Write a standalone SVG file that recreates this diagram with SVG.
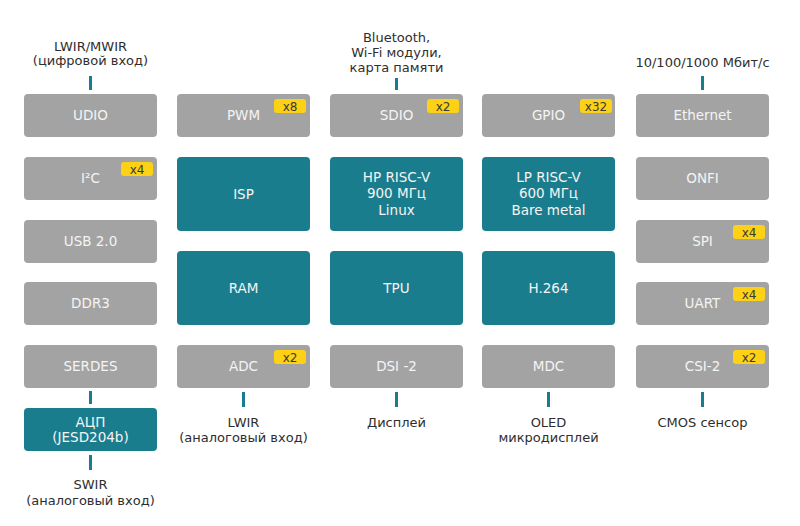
<svg xmlns="http://www.w3.org/2000/svg" width="800" height="526" viewBox="0 0 800 526">
<style>
  .g{fill:#a3a3a3}
  .t{fill:#1a7d8d}
  .bt{font-family:"DejaVu Sans",sans-serif;font-size:13.5px;fill:#f4f4f4;text-anchor:middle}
  .lb{font-family:"DejaVu Sans",sans-serif;font-size:13px;fill:#2e2e2e;text-anchor:middle}
  .bd{fill:#fcd116}
  .bx{font-family:"DejaVu Sans",sans-serif;font-size:12px;fill:#3a3a3a;text-anchor:middle}
  .c{stroke:#1a7d8d;stroke-width:3;fill:none}
</style>
<rect width="800" height="526" fill="#ffffff"/>

<g id="connectors">
  <line class="c" x1="90.5" y1="76" x2="90.5" y2="90"/>
  <line class="c" x1="396.5" y1="78" x2="396.5" y2="90"/>
  <line class="c" x1="702.5" y1="76" x2="702.5" y2="90"/>
  <line class="c" x1="90.5" y1="391" x2="90.5" y2="404"/>
  <line class="c" x1="90.5" y1="455" x2="90.5" y2="470"/>
  <line class="c" x1="243.5" y1="392" x2="243.5" y2="407"/>
  <line class="c" x1="396.5" y1="392" x2="396.5" y2="407"/>
  <line class="c" x1="548.5" y1="392" x2="548.5" y2="407"/>
  <line class="c" x1="702.5" y1="392" x2="702.5" y2="407"/>
</g>

<g id="labels">
  <text class="lb" x="90.5" y="51">LWIR/MWIR</text>
  <text class="lb" x="90.5" y="65">(цифровой вход)</text>
  <text class="lb" x="396.5" y="42">Bluetooth,</text>
  <text class="lb" x="396.5" y="57">Wi-Fi модули,</text>
  <text class="lb" x="396.5" y="72">карта памяти</text>
  <text class="lb" x="702.5" y="67">10/100/1000 Мбит/с</text>
  <text class="lb" x="243.5" y="427">LWIR</text>
  <text class="lb" x="243.5" y="442">(аналоговый вход)</text>
  <text class="lb" x="396.5" y="427">Дисплей</text>
  <text class="lb" x="548.5" y="427">OLED</text>
  <text class="lb" x="548.5" y="442">микродисплей</text>
  <text class="lb" x="702.5" y="427">CMOS сенсор</text>
  <text class="lb" x="90.5" y="489">SWIR</text>
  <text class="lb" x="90.5" y="505">(аналоговый вход)</text>
</g>

<!-- column 1 -->
<g id="udio"><rect class="g" x="24" y="94" width="133" height="43" rx="4"/><text class="bt" x="90.5" y="120">UDIO</text></g>
<g id="i2c"><rect class="g" x="24" y="157" width="133" height="43" rx="4"/><text class="bt" x="90.5" y="183">I²C</text>
  <rect class="bd" x="121" y="162" width="32" height="14" rx="3"/><text class="bx" x="137" y="173.5">x4</text></g>
<g id="usb"><rect class="g" x="24" y="220" width="133" height="43" rx="4"/><text class="bt" x="90.5" y="246">USB 2.0</text></g>
<g id="ddr3"><rect class="g" x="24" y="282" width="133" height="43" rx="4"/><text class="bt" x="90.5" y="308">DDR3</text></g>
<g id="serdes"><rect class="g" x="24" y="345" width="133" height="43" rx="4"/><text class="bt" x="90.5" y="371">SERDES</text></g>
<g id="adc-jesd"><rect class="t" x="24" y="408" width="133" height="43" rx="4"/><text class="bt" x="90.5" y="427">АЦП</text><text class="bt" x="90.5" y="442">(JESD204b)</text></g>

<!-- column 2 -->
<g id="pwm"><rect class="g" x="177" y="94" width="133" height="43" rx="4"/><text class="bt" x="243.5" y="120">PWM</text>
  <rect class="bd" x="274" y="99" width="32" height="14" rx="3"/><text class="bx" x="290" y="110.5">x8</text></g>
<g id="isp"><rect class="t" x="177" y="157" width="133" height="74" rx="4"/><text class="bt" x="243.5" y="198.5">ISP</text></g>
<g id="ram"><rect class="t" x="177" y="251" width="133" height="74" rx="4"/><text class="bt" x="243.5" y="292.5">RAM</text></g>
<g id="adc"><rect class="g" x="177" y="345" width="133" height="43" rx="4"/><text class="bt" x="243.5" y="371">ADC</text>
  <rect class="bd" x="274" y="350" width="32" height="14" rx="3"/><text class="bx" x="290" y="361.5">x2</text></g>

<!-- column 3 -->
<g id="sdio"><rect class="g" x="330" y="94" width="133" height="43" rx="4"/><text class="bt" x="396.5" y="120">SDIO</text>
  <rect class="bd" x="427" y="99" width="32" height="14" rx="3"/><text class="bx" x="443" y="110.5">x2</text></g>
<g id="hp-riscv"><rect class="t" x="330" y="157" width="133" height="74" rx="4"/>
  <text class="bt" x="396.5" y="181.5">HP RISC-V</text><text class="bt" x="396.5" y="198">900 МГц</text><text class="bt" x="396.5" y="214.5">Linux</text></g>
<g id="tpu"><rect class="t" x="330" y="251" width="133" height="74" rx="4"/><text class="bt" x="396.5" y="292.5">TPU</text></g>
<g id="dsi"><rect class="g" x="330" y="345" width="133" height="43" rx="4"/><text class="bt" x="396.5" y="371">DSI -2</text></g>

<!-- column 4 -->
<g id="gpio"><rect class="g" x="482" y="94" width="133" height="43" rx="4"/><text class="bt" x="548.5" y="120">GPIO</text>
  <rect class="bd" x="580" y="99" width="32" height="14" rx="3"/><text class="bx" x="596" y="110.5">x32</text></g>
<g id="lp-riscv"><rect class="t" x="482" y="157" width="133" height="74" rx="4"/>
  <text class="bt" x="548.5" y="181.5">LP RISC-V</text><text class="bt" x="548.5" y="198">600 МГц</text><text class="bt" x="548.5" y="214.5">Bare metal</text></g>
<g id="h264"><rect class="t" x="482" y="251" width="133" height="74" rx="4"/><text class="bt" x="548.5" y="292.5">H.264</text></g>
<g id="mdc"><rect class="g" x="482" y="345" width="133" height="43" rx="4"/><text class="bt" x="548.5" y="371">MDC</text></g>

<!-- column 5 -->
<g id="ethernet"><rect class="g" x="636" y="94" width="133" height="43" rx="4"/><text class="bt" x="702.5" y="120">Ethernet</text></g>
<g id="onfi"><rect class="g" x="636" y="157" width="133" height="43" rx="4"/><text class="bt" x="702.5" y="183">ONFI</text></g>
<g id="spi"><rect class="g" x="636" y="220" width="133" height="43" rx="4"/><text class="bt" x="702.5" y="246">SPI</text>
  <rect class="bd" x="733" y="225" width="32" height="14" rx="3"/><text class="bx" x="749" y="236.5">x4</text></g>
<g id="uart"><rect class="g" x="636" y="282" width="133" height="43" rx="4"/><text class="bt" x="702.5" y="308">UART</text>
  <rect class="bd" x="733" y="287" width="32" height="14" rx="3"/><text class="bx" x="749" y="298.5">x4</text></g>
<g id="csi2"><rect class="g" x="636" y="345" width="133" height="43" rx="4"/><text class="bt" x="702.5" y="371">CSI-2</text>
  <rect class="bd" x="733" y="350" width="32" height="14" rx="3"/><text class="bx" x="749" y="361.5">x2</text></g>
</svg>
